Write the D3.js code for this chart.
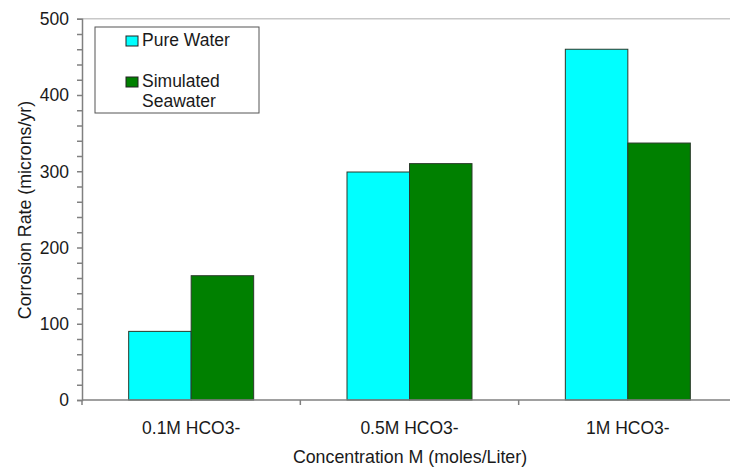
<!DOCTYPE html>
<html>
<head>
<meta charset="utf-8">
<script src="https://cdn.jsdelivr.net/npm/d3@7"></script>
<style>
  body { margin: 0; background: #fff; }
  svg { display: block; font-family: Arial, "Liberation Sans", sans-serif; }
  text { fill: #1a1a1a; }
</style>
</head>
<body>
<svg width="730" height="470"></svg>
<script>
// chart data
var categories = ["0.1M HCO3-", "0.5M HCO3-", "1M HCO3-"];
var seriesNames = ["Pure Water", "Simulated Seawater"];
var pureWater = [90, 299, 460];
var seawater = [163, 310, 337];
var yTicks = [0, 100, 200, 300, 400, 500];

var colors = ["#00ffff", "#008000"];

var svg = d3.select("svg"),
    margin = { top: 18.75, left: 82 },
    plotRight = 737,
    plotBottom = 400;

var rows = categories.map(function (c, i) {
    return { cat: c, values: [pureWater[i], seawater[i]] };
});

var x = d3.scaleBand()
    .domain(categories)
    .range([margin.left, plotRight])
    .paddingInner(0.4275)
    .paddingOuter(0.21375);

var x1 = d3.scaleBand()
    .domain([0, 1])
    .range([0, x.bandwidth()]);

var y = d3.scaleLinear()
    .domain([0, 500])
    .range([plotBottom, margin.top]);

// plot border (top edge visible)
svg.append("line")
    .attr("x1", margin.left).attr("x2", plotRight)
    .attr("y1", y(500)).attr("y2", y(500))
    .attr("stroke", "#c8c8c8").attr("stroke-width", 1.5);

// bars
var groups = svg.selectAll(".grp")
    .data(rows)
    .enter().append("g")
    .attr("class", "grp")
    .attr("transform", function (d) { return "translate(" + x(d.cat) + ",0)"; });

groups.selectAll("rect")
    .data(function (d) { return d.values.map(function (v, k) { return { k: k, v: v }; }); })
    .enter().append("rect")
    .attr("x", function (d) { return x1(d.k); })
    .attr("width", x1.bandwidth())
    .attr("y", function (d) { return y(d.v); })
    .attr("height", function (d) { return y(0) - y(d.v); })
    .attr("fill", function (d) { return colors[d.k]; })
    .attr("stroke", "#2a3a2a")
    .attr("stroke-width", 1);

// y axis with minor ticks every 20
var yAxis = svg.append("g")
    .attr("transform", "translate(" + margin.left + ",0)")
    .call(d3.axisLeft(y).tickValues(d3.range(0, 501, 20)).tickSize(5).tickFormat(""));
yAxis.select(".domain").attr("stroke", "#808080").attr("stroke-width", 1.5);
yAxis.selectAll(".tick line").attr("stroke", "#808080").attr("stroke-width", 1.5);

svg.selectAll(".ylab")
    .data(yTicks)
    .enter().append("text")
    .attr("class", "ylab")
    .attr("x", 69)
    .attr("y", function (d) { return y(d); })
    .attr("dy", "0.36em")
    .attr("text-anchor", "end")
    .style("font-size", "17.5px")
    .text(function (d) { return d; });

// x axis, ticks at category boundaries
var bounds = [margin.left].concat(categories.map(function (c) { return x(c) + x.bandwidth() + x.step() * x.paddingInner() / 2; }));
svg.append("line")
    .attr("x1", margin.left).attr("x2", plotRight)
    .attr("y1", plotBottom).attr("y2", plotBottom)
    .attr("stroke", "#808080").attr("stroke-width", 1.5);
svg.selectAll(".xtick")
    .data(bounds)
    .enter().append("line")
    .attr("x1", function (d) { return d; }).attr("x2", function (d) { return d; })
    .attr("y1", plotBottom).attr("y2", plotBottom + 5)
    .attr("stroke", "#808080").attr("stroke-width", 1.5);

svg.selectAll(".xlab")
    .data(categories)
    .enter().append("text")
    .attr("class", "xlab")
    .attr("x", function (d) { return x(d) + x.bandwidth() / 2; })
    .attr("y", 434)
    .attr("text-anchor", "middle")
    .style("font-size", "17.5px")
    .text(function (d) { return d; });

// axis titles
svg.append("text")
    .attr("x", 410)
    .attr("y", 463)
    .attr("text-anchor", "middle")
    .style("font-size", "17.8px")
    .text("Concentration M (moles/Liter)");

svg.append("text")
    .attr("transform", "translate(31,210) rotate(-90)")
    .attr("text-anchor", "middle")
    .style("font-size", "17.8px")
    .text("Corrosion Rate (microns/yr)");

// legend
var legend = svg.append("g");
legend.append("rect")
    .attr("x", 95).attr("y", 27)
    .attr("width", 164).attr("height", 86)
    .attr("fill", "#fff")
    .attr("stroke", "#555").attr("stroke-width", 1);

var legendRows = [
    { lines: ["Pure Water"], y: 36 },
    { lines: ["Simulated", "Seawater"], y: 77 }
];
legendRows.forEach(function (r, i) {
    legend.append("rect")
        .attr("x", 126).attr("y", r.y)
        .attr("width", 12).attr("height", 10)
        .attr("fill", colors[i])
        .attr("stroke", "#222");
    r.lines.forEach(function (t, j) {
        legend.append("text")
            .attr("x", 142)
            .attr("y", r.y + 10 + j * 20)
            .style("font-size", "17.5px")
            .text(t);
    });
});
</script>
</body>
</html>
